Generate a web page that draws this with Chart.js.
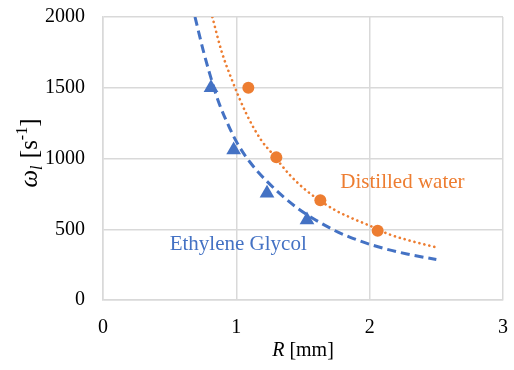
<!DOCTYPE html>
<html>
<head>
<meta charset="utf-8">
<script src="https://cdn.jsdelivr.net/npm/chart.js@4/dist/chart.umd.min.js"></script>
<style>
html,body{margin:0;padding:0;background:#fff;}
#wrap{width:514px;height:370px;position:relative;}
</style>
</head>
<body>
<div id="wrap"><canvas id="c" width="514" height="370"></canvas></div>
<script>
// Measured points
const R_water = [1.09, 1.30, 1.63, 2.06];
const omega_water = [1500, 1008, 705, 490];
const R_glycol = [0.81, 0.98, 1.23, 1.53];
const omega_glycol = [1500, 1060, 755, 565];

// Trend lines
const trend_water_R = [0.82, 0.89, 0.965, 1.078, 1.19, 1.265, 1.40, 1.53, 1.75, 1.85, 2.00, 2.15, 2.30, 2.50];
const trend_water_omega = [2000, 1755, 1560, 1310, 1125, 1040, 885, 770, 630, 585, 525, 463, 420, 372];
const trend_glycol_R = [0.69, 0.75, 0.80, 0.865, 0.95, 1.015, 1.10, 1.23, 1.45, 1.73, 1.85, 2.03, 2.28, 2.50];
const trend_glycol_omega = [2000, 1770, 1600, 1405, 1215, 1095, 977, 838, 655, 495, 445, 385, 325, 286];

// Axis ticks
const xTicks = [0, 1, 2, 3];
const yTicks = [0, 500, 1000, 1500, 2000];

const labelWater = "Distilled water";
const labelGlycol = "Ethylene Glycol";

const ORANGE = "#ED7D31";
const BLUE = "#4472C4";
const GRID = "#D9D9D9";
const SERIF = "'Liberation Serif', 'Times New Roman', serif";

const pts = (xs, ys) => xs.map((x, i) => ({x: x, y: ys[i]}));

const textPlugin = {
  id: 'texts',
  afterDraw(chart) {
    const ctx = chart.ctx;
    const xs = chart.scales.x, ys = chart.scales.y;
    ctx.save();
    ctx.textBaseline = 'alphabetic';
    ctx.textAlign = 'left';
    // series labels
    ctx.font = "21px " + SERIF;
    ctx.fillStyle = ORANGE;
    ctx.fillText(labelWater, xs.getPixelForValue(1.78), ys.getPixelForValue(795));
    ctx.fillStyle = BLUE;
    ctx.fillText(labelGlycol, xs.getPixelForValue(0.5), ys.getPixelForValue(355));

    // x title: R [mm]
    ctx.fillStyle = "#000";
    const f = "20px " + SERIF, fi = "italic 20px " + SERIF;
    ctx.font = fi; const wR = ctx.measureText("R").width;
    ctx.font = f; const wRest = ctx.measureText(" [mm]").width;
    const cx = (chart.chartArea.left + chart.chartArea.right) / 2;
    let x0 = cx - (wR + wRest) / 2;
    ctx.font = fi; ctx.fillText("R", x0, 356);
    ctx.font = f; ctx.fillText(" [mm]", x0 + wR, 356);

    // y title: ω_l [s^-1]
    const F = "25px " + SERIF, FI = "italic 25px " + SERIF;
    const fs = "italic 16px " + SERIF, fsup = "16px " + SERIF;
    ctx.font = FI; const w1 = ctx.measureText("ω").width;
    ctx.font = fs; const w2 = ctx.measureText("l").width + 1;
    ctx.font = F; const w3 = ctx.measureText(" [s").width;
    ctx.font = fsup; const w4 = ctx.measureText("-1").width;
    ctx.font = F; const w5 = ctx.measureText("]").width;
    const total = w1 + w2 + w3 + w4 + w5;
    ctx.translate(37, 153);
    ctx.rotate(-Math.PI / 2);
    let p = -total / 2;
    ctx.font = FI; ctx.fillText("ω", p, 0); p += w1;
    ctx.font = fs; ctx.fillText("l", p, 5); p += w2;
    ctx.font = F; ctx.fillText(" [s", p, 0); p += w3;
    ctx.font = fsup; ctx.fillText("-1", p, -10); p += w4;
    ctx.font = F; ctx.fillText("]", p, 0);
    ctx.restore();
  }
};

new Chart(document.getElementById('c'), {
  type: 'scatter',
  data: {
    datasets: [
      {
        label: 'trend water',
        data: pts(trend_water_R, trend_water_omega),
        showLine: true,
        borderColor: ORANGE,
        borderWidth: 2.6,
        borderDash: [0.1, 5],
        borderCapStyle: 'round',
        pointRadius: 0,
        cubicInterpolationMode: 'monotone',
        order: 3
      },
      {
        label: 'trend glycol',
        data: pts(trend_glycol_R, trend_glycol_omega),
        showLine: true,
        borderColor: BLUE,
        borderWidth: 3,
        borderDash: [9, 5],
        pointRadius: 0,
        cubicInterpolationMode: 'monotone',
        order: 3
      },
      {
        label: labelWater,
        data: pts(R_water, omega_water),
        pointStyle: 'circle',
        pointRadius: 6,
        backgroundColor: ORANGE,
        borderColor: ORANGE,
        borderWidth: 0,
        order: 1
      },
      {
        label: labelGlycol,
        data: pts(R_glycol, omega_glycol),
        pointStyle: 'triangle',
        pointRadius: 8.5,
        backgroundColor: BLUE,
        borderColor: BLUE,
        borderWidth: 0,
        order: 1
      }
    ]
  },
  options: {
    responsive: false,
    animation: false,
    events: [],
    layout: { padding: { top: 17, right: 11, left: 0, bottom: 0 } },
    plugins: { legend: { display: false }, tooltip: { enabled: false } },
    scales: {
      x: {
        type: 'linear',
        min: xTicks[0], max: xTicks[xTicks.length - 1],
        afterBuildTicks: s => { s.ticks = xTicks.map(v => ({value: v})); },
        afterFit: s => { s.height = 70; s.paddingLeft = 0; s.paddingRight = 0; },
        grid: { color: GRID, lineWidth: 1.5, drawTicks: false },
        border: { color: GRID, width: 1.5 },
        ticks: { color: "#000", font: { family: SERIF, size: 20 }, padding: 16, maxRotation: 0,
                 callback: v => String(v) }
      },
      y: {
        type: 'linear',
        min: yTicks[0], max: yTicks[yTicks.length - 1],
        afterBuildTicks: s => { s.ticks = yTicks.map(v => ({value: v})); },
        afterFit: s => { s.width = 103; s.paddingTop = 0; s.paddingBottom = 0; },
        grid: { color: GRID, lineWidth: 1.5, drawTicks: false },
        border: { color: GRID, width: 1.5 },
        ticks: { color: "#000", font: { family: SERIF, size: 20 }, padding: 18,
                 callback: v => String(v) }
      }
    }
  },
  plugins: [textPlugin]
});
</script>
</body>
</html>
